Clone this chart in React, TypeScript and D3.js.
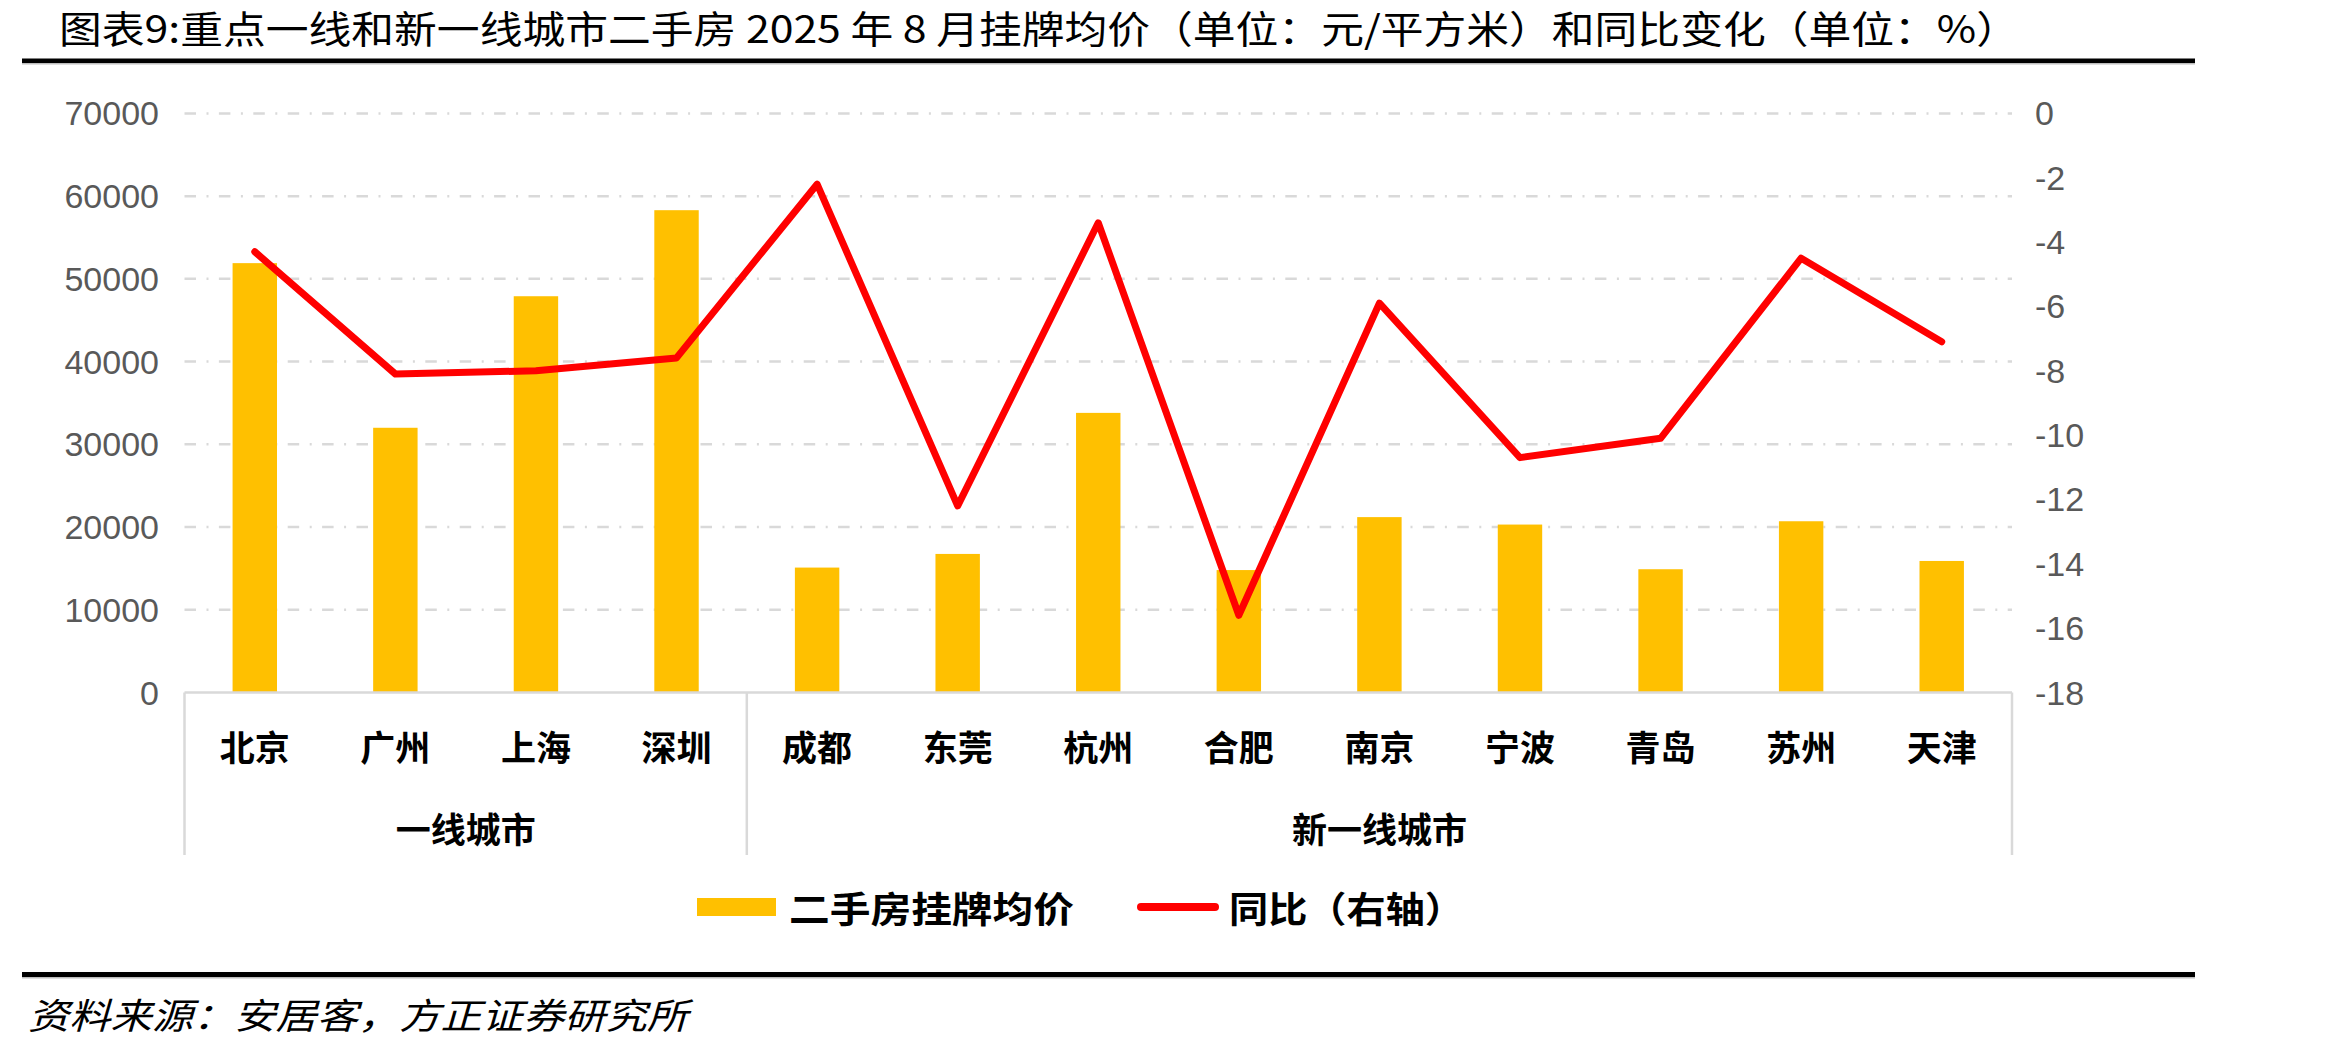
import React from "react";
import * as d3 from "d3";

// City categories, grouped into tier-1 and new tier-1
const cities = ["北京", "广州", "上海", "深圳", "成都", "东莞", "杭州", "合肥", "南京", "宁波", "青岛", "苏州", "天津"];
const groups = [
  { name: "一线城市", count: 4 },
  { name: "新一线城市", count: 9 },
];
// Average listing price of second-hand homes (yuan / m²)
const listPrice = [51900, 32000, 47900, 58300, 15100, 16750, 33800, 14800, 21200, 20300, 14900, 20700, 15900];
// Year-over-year change (%), right axis
const yoyChange = [-4.3, -8.1, -8.0, -7.6, -2.2, -12.2, -3.4, -15.6, -5.9, -10.7, -10.1, -4.5, -7.1];
const leftTicks = [0, 10000, 20000, 30000, 40000, 50000, 60000, 70000];
const rightTicks = [0, -2, -4, -6, -8, -10, -12, -14, -16, -18];

const W = 2333;
const H = 1045;
const plot = { left: 184.5, right: 2012, top: 113.4, bottom: 692.5 };
const CJK = "'Noto Sans CJK SC', 'Noto Sans', sans-serif";
const NUM = "'Liberation Sans', Arial, sans-serif";
const BAR = "#FFC000";
const LINE = "#FF0000";
const GRID = "#D9D9D9";

export default function App() {
  const x = d3.scaleBand<string>().domain(cities).range([plot.left, plot.right]).padding(0);
  const yL = d3.scaleLinear().domain([0, 70000]).range([plot.bottom, plot.top]);
  const yR = d3.scaleLinear().domain([-18, 0]).range([plot.bottom, plot.top]);
  const bw = x.bandwidth() * 0.316;
  const cx = (c: string) => (x(c) as number) + x.bandwidth() / 2;

  const line = d3
    .line<number>()
    .x((_, i) => cx(cities[i]))
    .y((v) => yR(v));

  // group separators along the category axis
  let acc = 0;
  const groupSpans = groups.map((g) => {
    const start = x(cities[acc]) as number;
    acc += g.count;
    const end = acc < cities.length ? (x(cities[acc]) as number) : plot.right;
    return { ...g, start, end };
  });
  const sepXs = [plot.left, ...groupSpans.map((g) => g.end)];
  const axisBottom = 855;

  return (
    <svg
      width={W}
      height={H}
      viewBox={`0 0 ${W} ${H}`}
      style={{ position: "absolute", left: 0, top: 0, background: "#fff" }}
    >
      <rect x={0} y={0} width={W} height={H} fill="#fff" />

      {/* title */}
      <text
        x={59}
        y={43}
        fontFamily={CJK}
        fontSize={38}
        fill="#000"
        textLength={1960}
        lengthAdjust="spacingAndGlyphs"
      >
        图表9:重点一线和新一线城市二手房 2025 年 8 月挂牌均价（单位：元/平方米）和同比变化（单位：%）
      </text>
      <rect x={22} y={58.5} width={2173} height={4.5} fill="#000" />
      <rect x={22} y={63} width={2173} height={1.5} fill="#BDBDBD" />

      {/* gridlines */}
      {leftTicks
        .filter((t) => t !== 0)
        .map((t) => (
          <line
            key={`g${t}`}
            x1={plot.left}
            x2={plot.right}
            y1={yL(t)}
            y2={yL(t)}
            stroke={GRID}
            strokeWidth={2.5}
            strokeDasharray="11.5 10.5 2 10.4"
          />
        ))}

      {/* left axis labels */}
      {leftTicks.map((t) => (
        <text
          key={`l${t}`}
          x={159}
          y={yL(t)}
          textAnchor="end"
          dominantBaseline="central"
          fontFamily={NUM}
          fontSize={34}
          fill="#595959"
        >
          {t}
        </text>
      ))}

      {/* right axis labels */}
      {rightTicks.map((t) => (
        <text
          key={`r${t}`}
          x={2035}
          y={yR(t)}
          dominantBaseline="central"
          fontFamily={NUM}
          fontSize={34}
          fill="#595959"
        >
          {t}
        </text>
      ))}

      {/* bars */}
      {cities.map((c, i) => (
        <rect
          key={`b${c}`}
          x={cx(c) - bw / 2}
          y={yL(listPrice[i])}
          width={bw}
          height={plot.bottom - yL(listPrice[i])}
          fill={BAR}
        />
      ))}

      {/* category axis */}
      <line x1={plot.left} x2={plot.right} y1={plot.bottom} y2={plot.bottom} stroke={GRID} strokeWidth={2.5} />
      {sepXs.map((sx, i) => (
        <line key={`s${i}`} x1={sx} x2={sx} y1={plot.bottom} y2={axisBottom} stroke={GRID} strokeWidth={2.5} />
      ))}
      {cities.map((c) => (
        <text
          key={`c${c}`}
          x={cx(c)}
          y={745}
          textAnchor="middle"
          dominantBaseline="central"
          fontFamily={CJK}
          fontWeight={700}
          fontSize={35}
          fill="#000"
        >
          {c}
        </text>
      ))}
      {groupSpans.map((g) => (
        <text
          key={`gr${g.name}`}
          x={(g.start + g.end) / 2}
          y={827}
          textAnchor="middle"
          dominantBaseline="central"
          fontFamily={CJK}
          fontWeight={700}
          fontSize={35}
          fill="#000"
        >
          {g.name}
        </text>
      ))}

      {/* YoY line */}
      <path
        d={line(yoyChange) ?? ""}
        fill="none"
        stroke={LINE}
        strokeWidth={7}
        strokeLinejoin="round"
        strokeLinecap="round"
      />

      {/* legend */}
      <rect x={697} y={898} width={79} height={18} fill={BAR} />
      <text
        x={789}
        y={907}
        dominantBaseline="central"
        fontFamily={CJK}
        fontWeight={700}
        fontSize={36}
        fill="#000"
        textLength={285}
        lengthAdjust="spacingAndGlyphs"
      >
        二手房挂牌均价
      </text>
      <line x1={1141} x2={1215} y1={907} y2={907} stroke={LINE} strokeWidth={8} strokeLinecap="round" />
      <text
        x={1229}
        y={907}
        dominantBaseline="central"
        fontFamily={CJK}
        fontWeight={700}
        fontSize={36}
        fill="#000"
        textLength={235}
        lengthAdjust="spacingAndGlyphs"
      >
        同比（右轴）
      </text>

      {/* footer */}
      <rect x={22} y={972} width={2173} height={5} fill="#000" />
      <rect x={22} y={977} width={2173} height={1.5} fill="#BDBDBD" />
      <text
        x={28}
        y={1013}
        dominantBaseline="central"
        fontFamily={CJK}
        fontStyle="italic"
        fontSize={36}
        fill="#000"
        textLength={660}
        lengthAdjust="spacingAndGlyphs"
      >
        资料来源：安居客，方正证券研究所
      </text>
    </svg>
  );
}
